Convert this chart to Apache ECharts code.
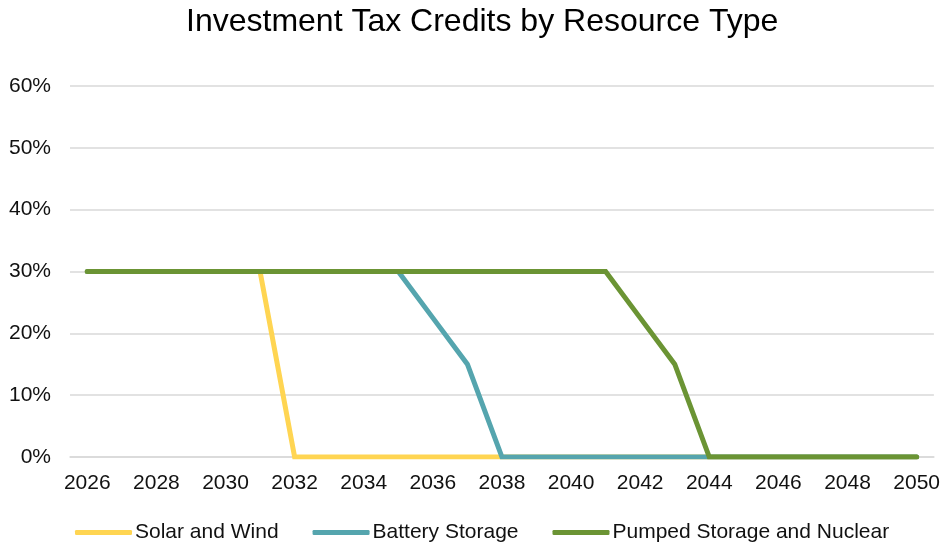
<!DOCTYPE html>
<html>
<head>
<meta charset="utf-8">
<script src="https://cdn.jsdelivr.net/npm/echarts@6/dist/echarts.min.js"></script>
<style>
  html, body { margin: 0; padding: 0; background: #fff; }
  #chart { width: 943px; height: 544px; }
</style>
</head>
<body>
<div id="chart"></div>
<script>
// Tax credit rates (%) by year for each resource type
const years = ['2026','2027','2028','2029','2030','2031','2032','2033','2034','2035','2036','2037','2038',
               '2039','2040','2041','2042','2043','2044','2045','2046','2047','2048','2049','2050'];
const solarWind = [30,30,30,30,30,30,0,0,0,0,0,0,0,0,0,0,0,0,0,0,0,0,0,0,0];
const batteryStorage = [30,30,30,30,30,30,30,30,30,30,22.5,15,0,0,0,0,0,0,0,0,0,0,0,0,0];
const pumpedNuclear = [30,30,30,30,30,30,30,30,30,30,30,30,30,30,30,30,22.5,15,0,0,0,0,0,0,0];
const seriesNames = ['Solar and Wind', 'Battery Storage', 'Pumped Storage and Nuclear'];
const seriesColors = ['#FFD552', '#55A5AE', '#6B9434'];

const font = 'Arial, "Liberation Sans", sans-serif';
const chart = echarts.init(document.getElementById('chart'), null, { renderer: 'canvas' });

const makeLine = (name, data, color) => ({
  name, type: 'line', data,
  symbol: 'none',
  lineStyle: { width: 5, color, cap: 'round', join: 'miter' },
  itemStyle: { color },
  animation: false
});

chart.setOption({
  backgroundColor: '#fff',
  title: {
    text: 'Investment Tax Credits by Resource Type',
    left: 181, top: 1,
    textStyle: { fontFamily: font, fontSize: 32, fontWeight: 'normal', color: '#000' }
  },
  legend: {
    top: 517, left: 70,
    icon: 'roundRect', itemWidth: 57, itemHeight: 5, itemGap: 34,
    textStyle: { fontFamily: font, fontSize: 21, color: '#111', padding: [0, 0, 0, -2] },
    data: seriesNames
  },
  grid: { left: 70, right: 9, top: 86, bottom: 87, containLabel: false },
  xAxis: {
    type: 'category', data: years, boundaryGap: true,
    axisLine: { show: true, lineStyle: { color: '#d9d9d9', width: 1.5 } },
    axisTick: { show: false },
    axisLabel: {
      interval: 1, margin: 16,
      fontFamily: font, fontSize: 21, color: '#111'
    },
    splitLine: { show: false }
  },
  yAxis: {
    type: 'value', min: 0, max: 60, interval: 10,
    axisLine: { show: false }, axisTick: { show: false },
    axisLabel: {
      formatter: '{value}%', margin: 19,
      fontFamily: font, fontSize: 21, color: '#111'
    },
    splitLine: { lineStyle: { color: '#d9d9d9', width: 1.5 } }
  },
  series: [
    makeLine(seriesNames[0], solarWind, seriesColors[0]),
    makeLine(seriesNames[1], batteryStorage, seriesColors[1]),
    makeLine(seriesNames[2], pumpedNuclear, seriesColors[2])
  ]
});
</script>
</body>
</html>
